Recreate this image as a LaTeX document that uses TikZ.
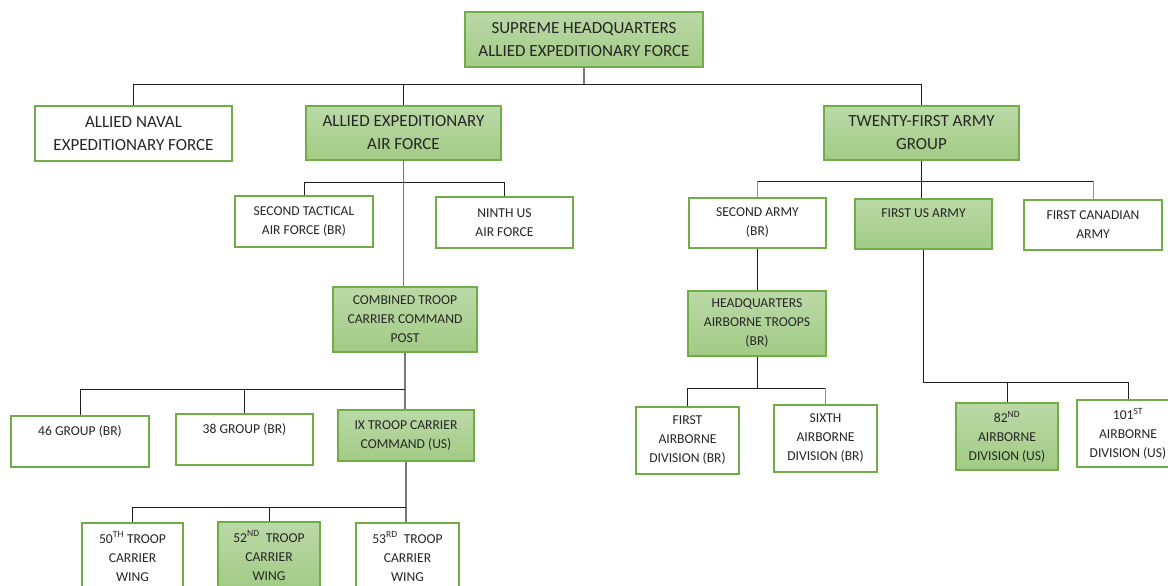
\documentclass[tikz,border=0pt]{standalone}
\usepackage{fontspec}
\setmainfont{Carlito}
\definecolor{gborder}{RGB}{112,173,71}
\definecolor{gtop}{RGB}{187,217,167}
\definecolor{gbot}{RGB}{162,203,133}
\definecolor{txt}{RGB}{38,38,38}
\definecolor{lnblack}{RGB}{30,30,30}
\definecolor{lngray}{RGB}{120,120,120}
\definecolor{lnblue}{RGB}{115,148,210}
\tikzset{
  boxbase/.style={draw=gborder, line width=1.4pt, inner sep=0pt, align=center, text=txt},
  plainbox/.style={boxbase, fill=white},
  greenbox/.style={boxbase, top color=gtop, bottom color=gbot},
  bigtext/.style={font=\fontsize{17}{23}\selectfont},
  smalltext/.style={font=\fontsize{13.6}{19}\selectfont},
  ln/.style={draw=lnblack, line width=1pt},
  lng/.style={draw=lngray, line width=1.8pt},
  lnb/.style={draw=lnblue, line width=1pt},
}
\newcommand\bx[7]{\node[#6, minimum width={#4-#2}, minimum height={#5-#3}] (#1) at ({(#2+#4)/2},{(#3+#5)/2}) {#7};}
\newcommand\toptext[1]{\smash{\raisebox{6.5pt}{#1}}}
\begin{document}
\begin{tikzpicture}[x=1pt,y=-1pt]
\useasboundingbox (0,0) rectangle (1168,586);
\clip (0,0) rectangle (1168,586);
% boxes
\bx{shaef}{465}{12}{703}{67}{greenbox,bigtext}{SUPREME HEADQUARTERS\\ALLIED EXPEDITIONARY FORCE}
\bx{naval}{35}{106}{232}{161}{plainbox,bigtext}{ALLIED NAVAL\\EXPEDITIONARY FORCE}
\bx{aeaf}{306}{106}{501}{160}{greenbox,bigtext}{ALLIED EXPEDITIONARY\\AIR FORCE}
\bx{tfag}{824}{106}{1019}{160}{greenbox,bigtext}{TWENTY-FIRST ARMY\\GROUP}
\bx{stac}{235}{196}{373}{247}{plainbox,smalltext}{SECOND TACTICAL\\AIR FORCE (BR)}
\bx{ninth}{436}{197}{573}{248}{plainbox,smalltext}{NINTH US\\AIR FORCE}
\bx{ctccp}{333}{287}{477}{352}{greenbox,smalltext}{COMBINED TROOP\\CARRIER COMMAND\\POST}
\bx{gfs}{11}{416}{149}{467}{plainbox,smalltext}{\toptext{46 GROUP (BR)}}
\bx{gte}{176}{414}{313}{465}{plainbox,smalltext}{\toptext{38 GROUP (BR)}}
\bx{ix}{338}{410}{474}{461}{greenbox,smalltext}{IX TROOP CARRIER\\COMMAND (US)}
\bx{wfifty}{82}{523}{183}{590}{plainbox,smalltext}{50\textsuperscript{TH} TROOP\\CARRIER\\WING}
\bx{wftwo}{218}{522}{320}{589}{greenbox,smalltext}{52\textsuperscript{ND}\ \ TROOP\\CARRIER\\WING}
\bx{wfthree}{356}{523}{459}{590}{plainbox,smalltext}{53\textsuperscript{RD}\ \ TROOP\\CARRIER\\WING}
\bx{sa}{689}{198}{826}{248}{plainbox,smalltext}{SECOND ARMY\\(BR)}
\bx{fusa}{855}{199}{992}{249}{greenbox,smalltext}{\toptext{FIRST US ARMY}}
\bx{fca}{1024}{200}{1162}{250}{plainbox,smalltext}{FIRST CANADIAN\\ARMY}
\bx{hqat}{688}{291}{826}{356}{greenbox,smalltext}{HEADQUARTERS\\AIRBORNE TROOPS\\(BR)}
\bx{fad}{636}{407}{739}{474}{plainbox,smalltext}{FIRST\\AIRBORNE\\DIVISION (BR)}
\bx{sad}{774}{405}{877}{472}{plainbox,smalltext}{SIXTH\\AIRBORNE\\DIVISION (BR)}
\bx{eighty}{956}{403}{1058}{470}{greenbox,smalltext}{82\textsuperscript{ND}\\AIRBORNE\\DIVISION (US)}
\bx{hundred}{1077}{400}{1179}{467}{plainbox,smalltext}{101\textsuperscript{ST}\\AIRBORNE\\DIVISION (US)}
% connectors: top level
\draw[lng] (shaef.south) -- (shaef.south |- 0,85);
\draw[ln] (naval.north) |- (tfag.north |- 0,85) -- (tfag.north);
\draw[ln] (aeaf.north) -- (aeaf.north |- 0,85);
% air force
\draw[ln] (stac.north) |- (ninth.north |- 0,182) -- (ninth.north);
\draw[lng] (aeaf.south) -- (aeaf.south |- ctccp.north);
\draw[lng] (ctccp.south) -- (ctccp.south |- ix.north);
\draw[ln] (gfs.north) |- (ctccp.south |- 0,389);
\draw[ln] (gte.north) -- (gte.north |- 0,389);
\draw[lng] (ix.south) -- (ix.south |- wfthree.north);
\draw[ln] (wfifty.north) |- (ix.south |- 0,507);
\draw[ln] (wftwo.north) -- (wftwo.north |- 0,507);
% army group
\draw[ln] (tfag.south) -- (tfag.south |- fusa.north);
\draw[ln] (sa.north |- 0,181) -- (fca.north |- 0,181);
\draw[lnb] (sa.north) -- (sa.north |- 0,181);
\draw[lnb] (fca.north) -- (fca.north |- 0,181);
\draw[ln] (sa.south) -- (sa.south |- hqat.north);
\draw[ln] (hqat.south) -- (hqat.south |- 0,388);
\draw[ln] (fad.north) |- (sad.north |- 0,388);
\draw[lnb] (sad.north) -- (sad.north |- 0,388);
\draw[ln] (fusa.south) |- (hundred.north |- 0,382) -- (hundred.north);
\draw[ln] (eighty.north) -- (eighty.north |- 0,382);
\end{tikzpicture}
\end{document}
